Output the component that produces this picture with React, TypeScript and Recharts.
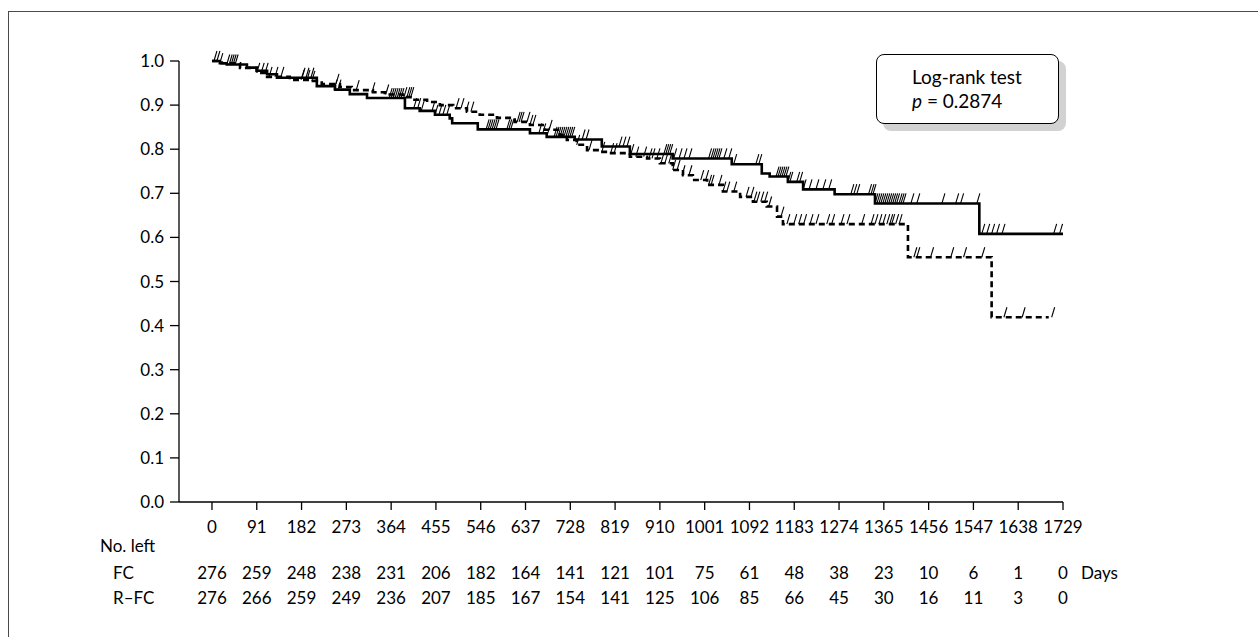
import { ComposedChart, Line, Scatter, XAxis, YAxis } from "recharts"

const dayTicks = [0, 91, 182, 273, 364, 455, 546, 637, 728, 819, 910, 1001, 1092, 1183, 1274, 1365, 1456, 1547, 1638, 1729]
const survTicks = [0, 0.1, 0.2, 0.3, 0.4, 0.5, 0.6, 0.7, 0.8, 0.9, 1.0]

const atRiskFC = [276, 259, 248, 238, 231, 206, 182, 164, 141, 121, 101, 75, 61, 48, 38, 23, 10, 6, 1, 0]
const atRiskRFC = [276, 266, 259, 249, 236, 207, 185, 167, 154, 141, 125, 106, 85, 66, 45, 30, 16, 11, 3, 0]

// FC (solid) - step points
const fcDays = [0, 16, 30, 71, 91, 112, 132, 213, 250, 280, 315, 392, 422, 453, 483, 488, 540, 646, 680, 737, 792, 849, 936, 1056, 1117, 1133, 1170, 1201, 1265, 1347, 1559, 1729]
const fcSurv = [1.0, 0.995, 0.992, 0.985, 0.978, 0.97, 0.962, 0.943, 0.935, 0.925, 0.916, 0.893, 0.887, 0.878, 0.87, 0.859, 0.845, 0.836, 0.828, 0.822, 0.806, 0.789, 0.779, 0.766, 0.745, 0.738, 0.726, 0.709, 0.698, 0.677, 0.608, 0.608]

// R-FC (dashed)
const rfcDays = [0, 20, 57, 91, 112, 158, 205, 223, 260, 284, 327, 351, 388, 408, 437, 463, 490, 518, 544, 579, 615, 646, 676, 707, 721, 741, 762, 788, 808, 849, 884, 910, 936, 957, 977, 1006, 1038, 1073, 1099, 1127, 1148, 1160, 1414, 1584, 1700]
const rfcSurv = [1.0, 0.995, 0.984, 0.973, 0.964, 0.957, 0.955, 0.948, 0.941, 0.934, 0.929, 0.924, 0.918, 0.912, 0.907, 0.9, 0.893, 0.885, 0.878, 0.871, 0.862, 0.855, 0.844, 0.832, 0.821, 0.81, 0.798, 0.794, 0.791, 0.783, 0.779, 0.768, 0.753, 0.741, 0.73, 0.719, 0.704, 0.692, 0.681, 0.67, 0.647, 0.63, 0.555, 0.419, 0.419]

// censored observations (days)
const fcCensored = [6, 12, 18, 32, 37, 41, 45, 49, 185, 193, 203, 250, 258, 362, 366, 370, 374, 378, 382, 386, 412, 420, 427, 449, 455, 463, 471, 479, 559, 563, 567, 571, 575, 579, 601, 605, 609, 666, 674, 682, 697, 701, 705, 709, 713, 717, 721, 725, 729, 733, 754, 762, 829, 837, 845, 853, 920, 924, 928, 932, 940, 951, 961, 971, 1011, 1016, 1020, 1024, 1028, 1032, 1042, 1052, 1062, 1107, 1113, 1148, 1152, 1156, 1160, 1164, 1168, 1172, 1176, 1190, 1196, 1203, 1215, 1229, 1243, 1255, 1300, 1306, 1312, 1336, 1341, 1345, 1349, 1353, 1357, 1361, 1365, 1369, 1373, 1377, 1381, 1385, 1389, 1393, 1398, 1402, 1406, 1422, 1434, 1485, 1513, 1523, 1556, 1566, 1576, 1586, 1596, 1607, 1712, 1724]
const rfcCensored = [93, 102, 110, 118, 130, 142, 183, 195, 205, 254, 295, 327, 355, 392, 398, 402, 406, 498, 508, 518, 528, 622, 626, 630, 642, 648, 654, 687, 743, 768, 794, 812, 819, 863, 879, 890, 896, 906, 914, 922, 930, 938, 947, 957, 971, 995, 1005, 1011, 1016, 1032, 1040, 1048, 1062, 1087, 1097, 1103, 1109, 1117, 1125, 1133, 1158, 1170, 1184, 1194, 1204, 1217, 1229, 1251, 1261, 1280, 1292, 1322, 1341, 1349, 1357, 1365, 1373, 1379, 1383, 1391, 1398, 1428, 1434, 1462, 1503, 1529, 1566, 1611, 1648, 1708]

const stepValue = (days: number[], surv: number[], t: number) => {
  let v = surv[0]
  for (let i = 0; i < days.length; i++) if (days[i] <= t) v = surv[i]
  return v
}

const fcCurve = fcDays.map((t, i) => ({ t, s: fcSurv[i] }))
const rfcCurve = rfcDays.map((t, i) => ({ t, s: rfcSurv[i] }))
const fcMarks = fcCensored.map((t) => ({ t, s: stepValue(fcDays, fcSurv, t) }))
const rfcMarks = rfcCensored.map((t) => ({ t, s: stepValue(rfcDays, rfcSurv, t) }))

const FONT = "Lato, 'Noto Sans', sans-serif"

function CensorMark(props: any) {
  const { cx, cy } = props
  if (cx == null || cy == null) return null
  return <path d={`M${cx - 1},${cy} L${cx + 2},${cy - 10}`} stroke="#000" strokeWidth={1.1} fill="none" />
}

function RiskTick(props: any) {
  const { x, y, payload } = props
  const idx = dayTicks.indexOf(payload.value)
  return (
    <g fontFamily={FONT} fontSize={17} fill="#000">
      <text x={x} y={y + 15} dy="0.35em" textAnchor="middle">{payload.value}</text>
      <text x={x} y={y + 61} dy="0.35em" textAnchor="middle">{atRiskFC[idx]}</text>
      <text x={x} y={y + 86} dy="0.35em" textAnchor="middle">{atRiskRFC[idx]}</text>
    </g>
  )
}

const label = (left: number, top: number, text: string) => (
  <div style={{ position: "absolute", left, top, fontSize: 17, lineHeight: "20px", color: "#000" }}>{text}</div>
)

export default function App() {
  return (
    <div style={{ position: "fixed", left: 0, top: 0, width: 1258, height: 637, overflow: "hidden", background: "#fff", fontFamily: FONT }}>
      <div style={{ position: "absolute", left: 8, top: 11, width: 1300, height: 700, border: "1.5px solid #4a4a4a" }} />
      <div style={{ position: "absolute", left: 0, top: 0 }}>
        <ComposedChart width={1258} height={637} margin={{ top: 61, right: 195, left: 119, bottom: 105 }}>
          <XAxis
            dataKey="t"
            type="number"
            domain={[-67, 1729]}
            ticks={dayTicks}
            allowDataOverflow
            height={30}
            tickSize={8}
            tickMargin={2}
            stroke="#000"
            strokeWidth={1.3}
            tick={(p: any) => <RiskTick {...p} />}
          />
          <YAxis
            dataKey="s"
            type="number"
            domain={[0, 1]}
            ticks={survTicks}
            width={60}
            tickSize={9}
            tickMargin={6}
            stroke="#000"
            strokeWidth={1.3}
            tickFormatter={(v: number) => v.toFixed(1)}
            tick={{ fill: "#000", fontSize: 17, fontFamily: FONT }}
          />
          <Line data={fcCurve} dataKey="s" type="stepAfter" stroke="#000" strokeWidth={2.6} dot={false} activeDot={false} isAnimationActive={false} />
          <Line data={rfcCurve} dataKey="s" type="stepAfter" stroke="#000" strokeWidth={2.6} strokeDasharray="6 4" dot={false} activeDot={false} isAnimationActive={false} />
          <Scatter data={fcMarks} dataKey="s" shape={(p: any) => <CensorMark {...p} />} isAnimationActive={false} />
          <Scatter data={rfcMarks} dataKey="s" shape={(p: any) => <CensorMark {...p} />} isAnimationActive={false} />
        </ComposedChart>
      </div>
      {label(100, 536, "No. left")}
      {label(113, 563, "FC")}
      {label(113, 588, "R–FC")}
      {label(1081, 563, "Days")}
      <div
        style={{
          position: "absolute",
          left: 876,
          top: 54,
          width: 183,
          height: 70,
          border: "1.3px solid #000",
          borderRadius: 8,
          background: "#fff",
          boxShadow: "7px 7px 0 #d2d2d2",
          fontSize: 19,
          lineHeight: "24px",
          color: "#000",
          paddingLeft: 35,
          paddingTop: 10,
          boxSizing: "border-box",
        }}
      >
        <div>Log-rank test</div>
        <div>
          <i>p</i> = 0.2874
        </div>
      </div>
    </div>
  )
}
